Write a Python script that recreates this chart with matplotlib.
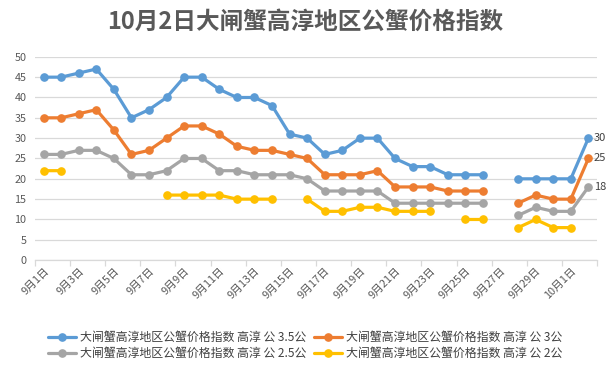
import numpy as np
import matplotlib
matplotlib.use("Agg")
import matplotlib.pyplot as plt

plt.rcParams['font.family'] = ['Noto Sans CJK SC', 'DejaVu Sans']

title = "10月2日大闸蟹高淳地区公蟹价格指数"
dates = [f"9月{d}日" for d in range(1, 31)] + ["10月1日", "10月2日"]
nan = np.nan
s35 = [45, 45, 46, 47, 42, 35, 37, 40, 45, 45, 42, 40, 40, 38, 31, 30,
       26, 27, 30, 30, 25, 23, 23, 21, 21, 21, nan, 20, 20, 20, 20, 30]
s30 = [35, 35, 36, 37, 32, 26, 27, 30, 33, 33, 31, 28, 27, 27, 26, 25,
       21, 21, 21, 22, 18, 18, 18, 17, 17, 17, nan, 14, 16, 15, 15, 25]
s25 = [26, 26, 27, 27, 25, 21, 21, 22, 25, 25, 22, 22, 21, 21, 21, 20,
       17, 17, 17, 17, 14, 14, 14, 14, 14, 14, nan, 11, 13, 12, 12, 18]
s20 = [22, 22, nan, nan, nan, nan, nan, 16, 16, 16, 16, 15, 15, 15, nan, 15,
       12, 12, 13, 13, 12, 12, 12, nan, 10, 10, nan, 8, 10, 8, 8, nan]
names = ["大闸蟹高淳地区公蟹价格指数 高淳 公 3.5公",
         "大闸蟹高淳地区公蟹价格指数 高淳 公 3公",
         "大闸蟹高淳地区公蟹价格指数 高淳 公 2.5公",
         "大闸蟹高淳地区公蟹价格指数 高淳 公 2公"]
colors = ["#5B9BD5", "#ED7D31", "#A5A5A5", "#FFC000"]
series = [s35, s30, s25, s20]
labels_end = [True, True, True, False]

fig = plt.figure(figsize=(6.10, 3.69), dpi=100)
ax = fig.add_axes([0.057, 0.295, 0.922, 0.551])

x = np.arange(len(dates))
handles = []
for vals, name, c in zip(series, names, colors):
    h, = ax.plot(x, vals, color=c, lw=2.3, marker='o', ms=5.2, label=name,
                 solid_capstyle='round', zorder=3)
    handles.append(h)

for vals, show, c in zip(series, labels_end, colors):
    if show:
        v = vals[-1]
        ax.annotate(f"{v:g}", (x[-1], v), xytext=(4, 0), textcoords='offset points',
                    ha='left', va='center', fontsize=8, color='#404040')

ax.set_xlim(-0.5, len(dates) - 0.5)
ax.set_ylim(0, 50)
ax.set_yticks(np.arange(0, 51, 5))
ax.grid(axis='y', color='#D9D9D9', lw=0.9)
ax.set_axisbelow(True)
for s in ['top', 'right', 'left']:
    ax.spines[s].set_visible(False)
ax.spines['bottom'].set_color('#D9D9D9')
ax.spines['bottom'].set_linewidth(0.9)

ax.set_xticks(x[::2])
ax.set_xticklabels(dates[::2], rotation=45, ha='right', rotation_mode='anchor',
                   fontsize=7.8, color='#595959')
ax.set_xticks(np.arange(-0.5, len(dates), 2), minor=True)
ax.tick_params(axis='x', which='major', length=0, pad=4)
ax.tick_params(axis='x', which='minor', length=4, color='#D9D9D9', width=0.9)
ax.tick_params(axis='y', length=0, labelsize=7.8, labelcolor='#595959', pad=6)

fig.text(0.5, 0.94, title, ha='center', va='center', fontsize=17,
         fontweight='bold', color='#595959')

order = [0, 2, 1, 3]
leg = fig.legend([handles[i] for i in order], [names[i] for i in order],
                 loc='lower center', bbox_to_anchor=(0.5, -0.005), ncol=2,
                 frameon=False, fontsize=8.6, handlelength=2.4,
                 columnspacing=0.6, handletextpad=0.3, labelspacing=0.25,
                 labelcolor='#404040')

fig.savefig("out.png", dpi=100)
